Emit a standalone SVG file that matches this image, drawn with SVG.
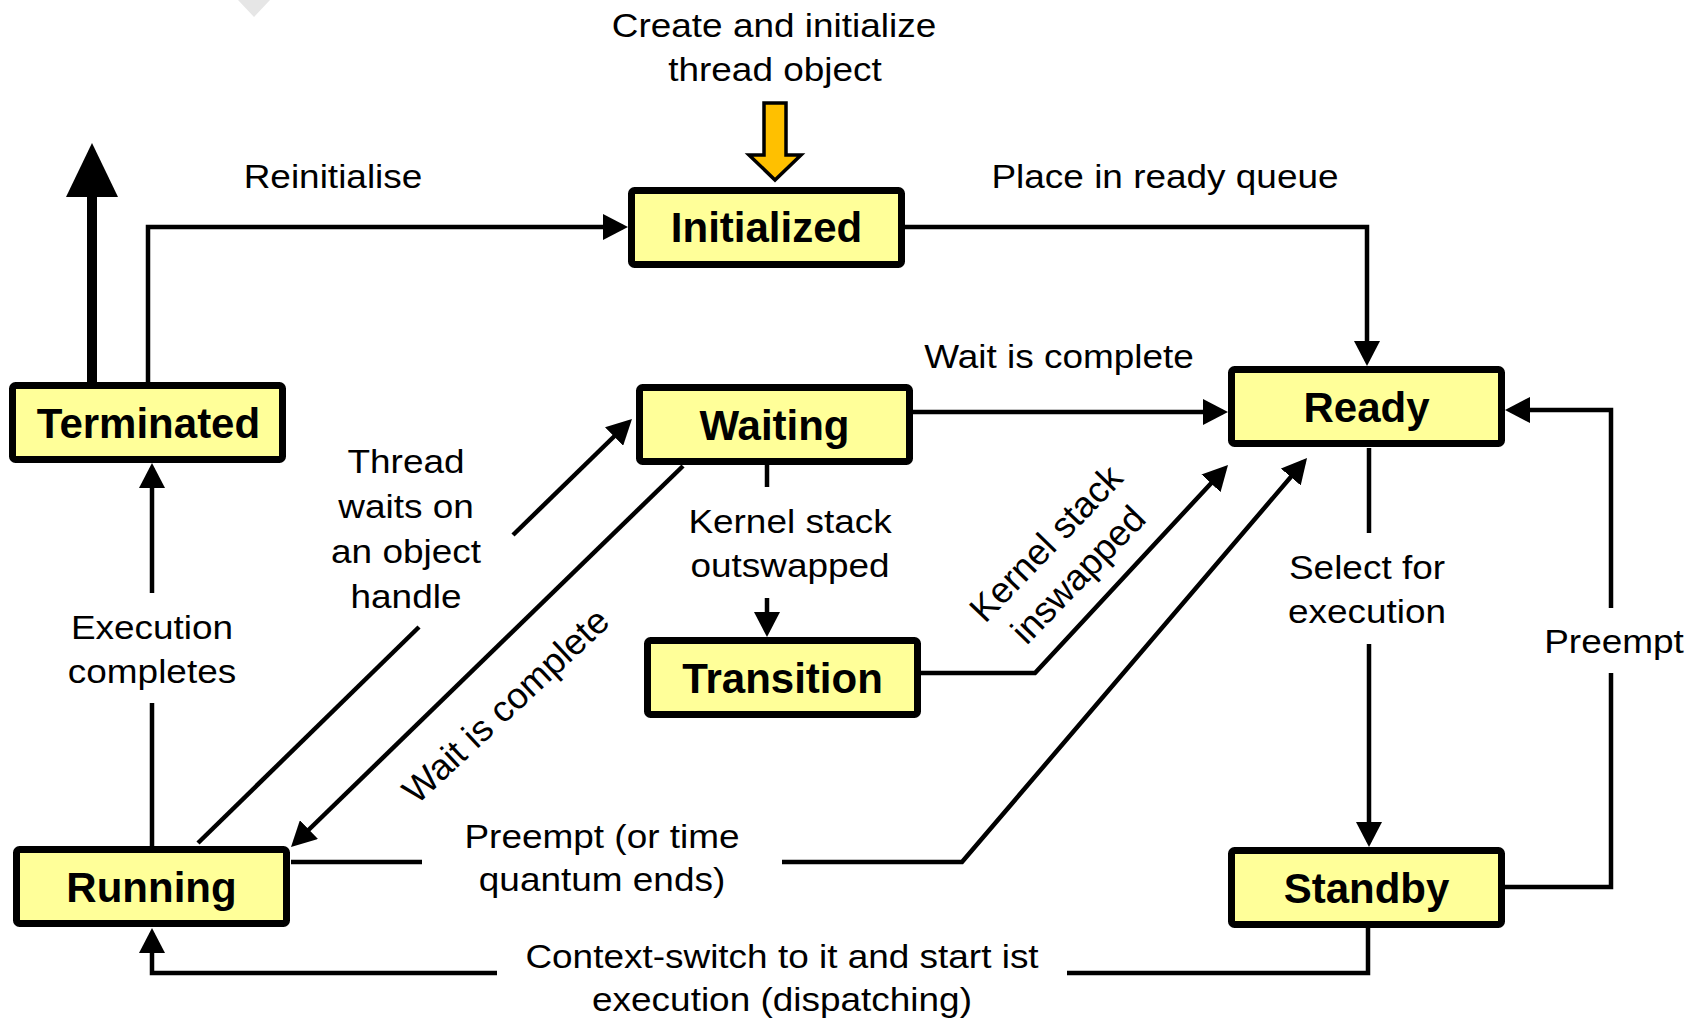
<svg xmlns="http://www.w3.org/2000/svg" width="1702" height="1022" viewBox="0 0 1702 1022">
<style>
.lbl { font-family: "Liberation Sans", Arial, sans-serif; font-size: 33px; fill: #000; text-anchor: middle; }
.rlbl { font-family: "Liberation Sans", Arial, sans-serif; font-size: 36.5px; fill: #000; text-anchor: middle; }
.node rect { fill: #FFFF99; stroke: #000; stroke-width: 7; }
.node text { font-family: "Liberation Sans", Arial, sans-serif; font-size: 42px; font-weight: bold; fill: #000; text-anchor: middle; }
.conn { fill: none; stroke: #000; stroke-width: 4.5; stroke-linejoin: miter; }
.arr { marker-end: url(#ah); }
</style>
<defs>
<marker id="ah" viewBox="0 0 25 26" markerUnits="userSpaceOnUse" markerWidth="25" markerHeight="26" refX="20" refY="13" orient="auto">
<path d="M0,0 L25,13 L0,26 z" fill="#000"/>
</marker>
</defs>
<rect x="0" y="0" width="1702" height="1022" fill="#fff"/>
<polygon points="238,0 270,0 254,17" fill="#e6e6e6"/>

<g id="connectors">
<path class="conn arr" d="M148,382 V227 H623"/>
<path class="conn arr" d="M905,227 H1367 V361"/>
<path class="conn arr" d="M913,412 H1223"/>
<path class="conn" d="M767,465 V487"/>
<path class="conn arr" d="M767,598 V632"/>
<path class="conn arr" d="M920,673 H1035 L1224.6,468.7"/>
<path class="conn" d="M291,862 H422"/>
<path class="conn arr" d="M782,862 H962 L1303.8,461.8"/>
<path class="conn arr" d="M683,466 L294.6,843.5"/>
<path class="conn" d="M198,843 L419,627"/>
<path class="conn arr" d="M513,535 L628.4,422.5"/>
<path class="conn" d="M152,846 V703"/>
<path class="conn arr" d="M152,593 V468"/>
<path class="conn" d="M1368,928 V973 H1067"/>
<path class="conn arr" d="M497,973 H152 V933"/>
<path class="conn" d="M1369,448 V533"/>
<path class="conn arr" d="M1369,644 V842"/>
<path class="conn" d="M1505,887 H1611 V673"/>
<path class="conn arr" d="M1611,608 V410 H1510"/>
<path d="M92,382 V196" stroke="#000" stroke-width="10" fill="none"/>
<polygon points="66,197 118,197 92,143" fill="#000"/>
<polygon points="764,103 786,103 786,155 801,155 775,180 749,155 764,155" fill="#FFC000" stroke="#000" stroke-width="3.5" stroke-linejoin="miter"/>
</g>

<g id="labels">
<text class="lbl" transform="translate(774 37) scale(1.12 1)">Create and initialize</text>
<text class="lbl" transform="translate(775 81) scale(1.12 1)">thread object</text>
<text class="lbl" transform="translate(333 188) scale(1.12 1)">Reinitialise</text>
<text class="lbl" transform="translate(1165 188) scale(1.12 1)">Place in ready queue</text>
<text class="lbl" transform="translate(1059 368) scale(1.12 1)">Wait is complete</text>
<text class="lbl" transform="translate(406 473) scale(1.12 1)">Thread</text>
<text class="lbl" transform="translate(406 518) scale(1.12 1)">waits on</text>
<text class="lbl" transform="translate(406 563) scale(1.12 1)">an object</text>
<text class="lbl" transform="translate(406 608) scale(1.12 1)">handle</text>
<text class="lbl" transform="translate(152 639) scale(1.12 1)">Execution</text>
<text class="lbl" transform="translate(152 683) scale(1.12 1)">completes</text>
<text class="lbl" transform="translate(790 533) scale(1.12 1)">Kernel stack</text>
<text class="lbl" transform="translate(790 577) scale(1.12 1)">outswapped</text>
<text class="lbl" transform="translate(1367 579) scale(1.12 1)">Select for</text>
<text class="lbl" transform="translate(1367 623) scale(1.12 1)">execution</text>
<text class="lbl" transform="translate(1614 653) scale(1.12 1)">Preempt</text>
<text class="lbl" transform="translate(602 848) scale(1.12 1)">Preempt (or time</text>
<text class="lbl" transform="translate(602 891) scale(1.12 1)">quantum ends)</text>
<text class="lbl" transform="translate(782 968) scale(1.12 1)">Context-switch to it and start ist</text>
<text class="lbl" transform="translate(782 1011) scale(1.12 1)">execution (dispatching)</text>
<text class="rlbl" transform="translate(506 706) rotate(-43)" y="12">Wait is complete</text>
<g transform="translate(1062 559) rotate(-46)">
<text class="rlbl" y="-10">Kernel stack</text>
<text class="rlbl" y="35">inswapped</text>
</g>
</g>

<g id="node-initialized" class="node"><rect x="631.5" y="190.5" width="270" height="74" rx="3"/><text x="766.5" y="242">Initialized</text></g>
<g id="node-terminated" class="node"><rect x="12.5" y="385.5" width="270" height="74" rx="3"/><text x="148.5" y="437.5">Terminated</text></g>
<g id="node-waiting" class="node"><rect x="639.5" y="387.5" width="270" height="74" rx="3"/><text x="774.5" y="439.5">Waiting</text></g>
<g id="node-ready" class="node"><rect x="1231.5" y="369.5" width="270" height="74" rx="3"/><text x="1366.5" y="422">Ready</text></g>
<g id="node-transition" class="node"><rect x="647.5" y="640.5" width="270" height="74" rx="3"/><text x="782.5" y="692.5">Transition</text></g>
<g id="node-running" class="node"><rect x="16.5" y="849.5" width="270" height="74" rx="3"/><text x="151.5" y="901.5">Running</text></g>
<g id="node-standby" class="node"><rect x="1231.5" y="850.5" width="270" height="74" rx="3"/><text x="1366.5" y="902.5">Standby</text></g>
</svg>
